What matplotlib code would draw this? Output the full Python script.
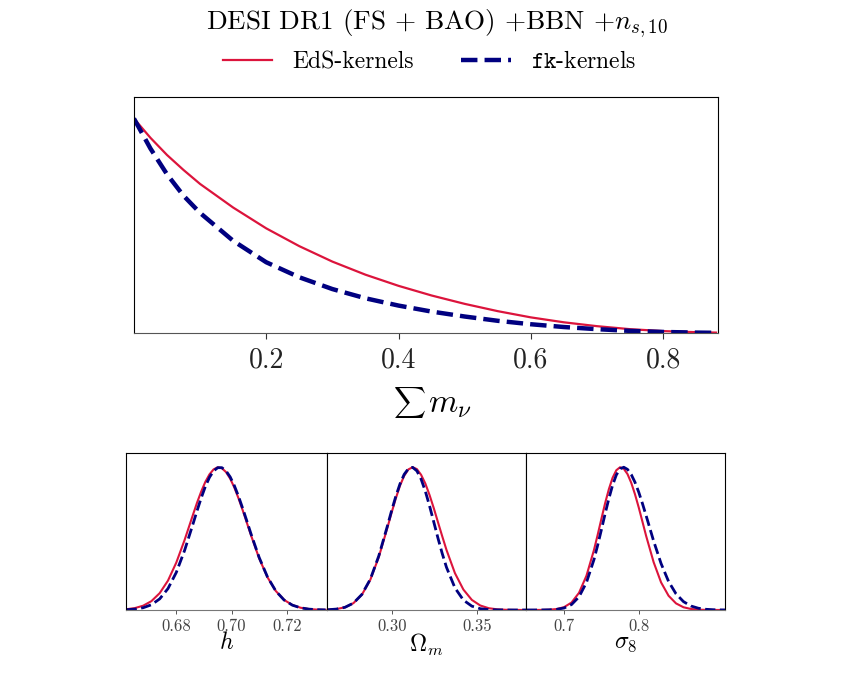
import matplotlib
matplotlib.use("Agg")
import matplotlib.pyplot as plt
from matplotlib.lines import Line2D

plt.rcParams['font.family'] = 'serif'
plt.rcParams['font.serif'] = ['cmr10', 'DejaVu Serif']
plt.rcParams['mathtext.fontset'] = 'cm'
plt.rcParams['axes.formatter.use_mathtext'] = True
plt.rcParams['axes.unicode_minus'] = False

RED = '#DC143C'
BLUE = '#000080'

# ---- top panel: sum of neutrino masses ----
mnu_x = [0.0, 0.025, 0.05, 0.075, 0.1, 0.15, 0.2, 0.25, 0.3, 0.35, 0.4, 0.45,
         0.5, 0.55, 0.6, 0.65, 0.7, 0.75, 0.8, 0.85, 0.88]
mnu_eds = [1.0, 0.91, 0.83, 0.76, 0.695, 0.585, 0.488, 0.405, 0.333, 0.272, 0.220,
           0.175, 0.136, 0.102, 0.073, 0.050, 0.032, 0.018, 0.009, 0.004, 0.002]
mnu_fk = [1.0, 0.86, 0.74, 0.64, 0.56, 0.43, 0.33, 0.26, 0.205, 0.162, 0.128,
          0.10, 0.077, 0.057, 0.041, 0.028, 0.018, 0.010, 0.005, 0.002, 0.001]
mnu_ticks = [0.2, 0.4, 0.6, 0.8]

# ---- h ----
h_x = [0.662, 0.665, 0.668, 0.671, 0.674, 0.677, 0.680, 0.683, 0.686, 0.6875, 0.689,
       0.6905, 0.692, 0.6935, 0.695, 0.6965, 0.698, 0.6995, 0.701, 0.7025, 0.704,
       0.7055, 0.707, 0.710, 0.713, 0.716, 0.719, 0.722, 0.725, 0.728, 0.731, 0.734]
h_eds = [0.0054, 0.0132, 0.0299, 0.0619, 0.118, 0.206, 0.332, 0.490, 0.665, 0.751,
         0.829, 0.897, 0.950, 0.985, 1.000, 0.993, 0.966, 0.920, 0.858, 0.783, 0.700,
         0.613, 0.525, 0.361, 0.229, 0.133, 0.0708, 0.0348, 0.0157, 0.0065, 0.0025,
         0.0009]
h_fk = [0.0021, 0.0060, 0.0156, 0.0365, 0.0778, 0.150, 0.263, 0.417, 0.600, 0.694,
        0.784, 0.864, 0.929, 0.974, 0.997, 0.997, 0.974, 0.932, 0.871, 0.797, 0.713,
        0.625, 0.535, 0.367, 0.231, 0.133, 0.0699, 0.0337, 0.0149, 0.0060, 0.0022,
        0.0008]
h_ticks = [0.68, 0.70, 0.72]

# ---- Omega_m ----
om_x = [0.262, 0.267, 0.272, 0.277, 0.282, 0.287, 0.292, 0.297, 0.2995, 0.302, 0.3045,
        0.307, 0.3095, 0.312, 0.3145, 0.317, 0.3195, 0.322, 0.3245, 0.327, 0.3295,
        0.332, 0.337, 0.342, 0.347, 0.352, 0.357, 0.362, 0.367, 0.372, 0.377, 0.380]
om_eds = [0.0020, 0.0066, 0.0189, 0.0479, 0.107, 0.212, 0.371, 0.573, 0.679, 0.780,
          0.870, 0.940, 0.985, 1.000, 0.987, 0.947, 0.886, 0.805, 0.713, 0.614, 0.516,
          0.421, 0.258, 0.143, 0.0705, 0.0313, 0.0125, 0.0045, 0.0014, 0.0004,
          0.0001, 0.0]
om_fk = [0.0019, 0.0064, 0.0187, 0.048, 0.109, 0.216, 0.379, 0.585, 0.693, 0.794,
         0.8825, 0.950, 0.990, 0.999, 0.9745, 0.917, 0.832, 0.729, 0.616, 0.502, 0.395,
         0.299, 0.155, 0.0692, 0.0269, 0.0090, 0.0026, 0.0007, 0.0002, 0.0, 0.0, 0.0]
om_ticks = [0.30, 0.35]

# ---- sigma_8 ----
s8_x = [0.65, 0.66, 0.67, 0.68, 0.69, 0.70, 0.71, 0.72, 0.73, 0.74, 0.745, 0.75,
        0.755, 0.76, 0.765, 0.77, 0.775, 0.78, 0.785, 0.79, 0.795, 0.80, 0.805, 0.81,
        0.82, 0.83, 0.84, 0.85, 0.86, 0.87, 0.88, 0.89, 0.90, 0.91, 0.92]
s8_eds = [0.0, 0.0001, 0.0005, 0.0019, 0.0066, 0.0198, 0.0522, 0.120, 0.240, 0.419,
          0.526, 0.638, 0.748, 0.846, 0.926, 0.979, 1.0, 0.989, 0.952, 0.891, 0.811,
          0.719, 0.619, 0.518, 0.335, 0.193, 0.0998, 0.0462, 0.0191, 0.0071, 0.0023,
          0.0007, 0.0002, 0.0, 0.0]
s8_fk = [0.0, 0.0001, 0.0003, 0.0012, 0.0044, 0.0138, 0.0381, 0.0919, 0.193, 0.352,
         0.453, 0.562, 0.674, 0.780, 0.874, 0.946, 0.989, 1.000, 0.985, 0.949, 0.895,
         0.826, 0.746, 0.660, 0.483, 0.325, 0.200, 0.113, 0.0586, 0.0279, 0.0121,
         0.0048, 0.0018, 0.0006, 0.0002]
s8_ticks = [0.7, 0.8]

fig = plt.figure(figsize=(8.64, 6.83), dpi=100)

# top panel
ax = fig.add_axes([0.155, 0.5124, 0.676, 0.3455])
ax.plot(mnu_x, mnu_eds, color=RED, lw=1.6)
ax.plot(mnu_x, mnu_fk, color=BLUE, lw=3.2, ls='--')
ax.set_xlim(0, 0.883)
ax.set_ylim(0, 1.1)
ax.set_yticks([])
ax.set_xticks(mnu_ticks)
ax.set_xticklabels(['0.2', '0.4', '0.6', '0.8'])
ax.tick_params(axis='x', labelsize=20, length=4, width=0.8, colors='#333333',
               labelcolor='#222222', pad=6)
ax.spines['bottom'].set_color('#555555')
fig.text(409 / 864, 1 - 403 / 683, r'$\sum$', ha='center', va='center', fontsize=16)
fig.text(450 / 864, 1 - 405 / 683, r'$m_\nu$', ha='center', va='center', fontsize=24)

# bottom panels
panels = [
    (h_x, h_eds, h_fk, h_ticks, ['0.68', '0.70', '0.72'], (0.6618, 0.7345), r'$h$',
     [0.1458, 0.2326]),
    (om_x, om_eds, om_fk, om_ticks, ['0.30', '0.35'], (0.2614, 0.379), r'$\Omega_m$',
     [0.3785, 0.2303]),
    (s8_x, s8_eds, s8_fk, s8_ticks, ['0.7', '0.8'], (0.649, 0.9156), r'$\sigma_8$',
     [0.6088, 0.2303]),
]
for xs, y1, y2, ticks, labels, xl, lab, (left, w) in panels:
    a = fig.add_axes([left, 0.1069, w, 0.2299])
    a.plot(xs, y1, color=RED, lw=1.5)
    a.plot(xs, y2, color=BLUE, lw=2.0, ls='--')
    a.set_xlim(*xl)
    a.set_ylim(0, 1.1)
    a.set_yticks([])
    a.set_xticks(ticks)
    a.set_xticklabels(labels)
    a.tick_params(axis='x', labelsize=12, length=3, width=0.7, colors='#555555',
                  labelcolor='#444444', pad=3)
    a.set_xlabel(lab, fontsize=17, labelpad=-1)
    a.spines['bottom'].set_color('#777777')

fig.text(0.506, 0.965, r'DESI DR1 (FS + BAO) +BBN +$n_{s,10}$', ha='center',
         va='center', fontsize=19.5)

handles = [Line2D([], [], color=RED, lw=1.6),
           Line2D([], [], color=BLUE, lw=3.2, ls='--')]
fig.legend(handles, ['EdS-kernels', r'$\mathtt{fk}$-kernels'], loc='center',
           bbox_to_anchor=(0.497, 0.909), ncol=2, frameon=False, fontsize=17,
           handlelength=2.1, columnspacing=2.0, handletextpad=0.85)

fig.savefig('out.png', dpi=100)
